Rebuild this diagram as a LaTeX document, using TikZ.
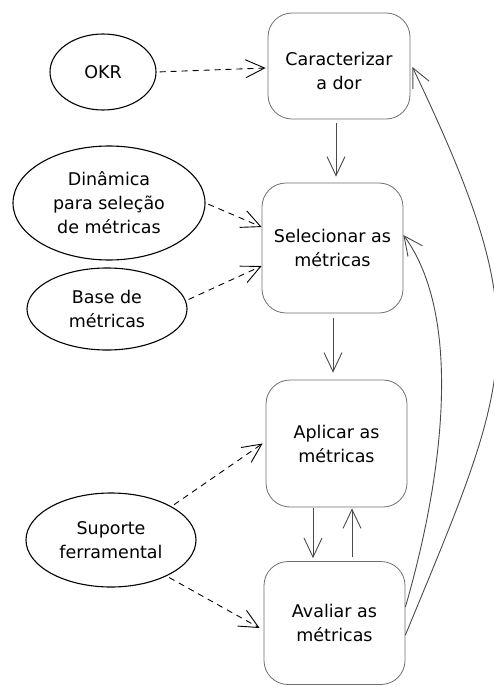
\documentclass[tikz,border=0pt]{standalone}
\usepackage{fontspec}
\setmainfont{DejaVu Sans}
\usetikzlibrary{shapes.geometric,arrows.meta,calc}
\definecolor{boxgray}{HTML}{6F6F6F}
\definecolor{arrgray}{HTML}{4A4A4A}
\tikzset{
  stepbox/.style={draw=boxgray, line width=0.8pt, rounded corners=24pt, inner sep=0pt,
    align=center, font=\fontsize{17.5}{24}\selectfont},
  inbox/.style={ellipse, draw=black, line width=1.1pt, inner sep=0pt,
    align=center, font=\fontsize{17.5}{24}\selectfont},
  tip/.style={-{Straight Barb[length=19pt,width=18pt]}},
  dashlink/.style={tip, draw=black, line width=0.9pt, dash pattern=on 6pt off 5pt},
  flow/.style={tip, draw=arrgray, line width=0.9pt},
  back/.style={tip, draw=arrgray, line width=0.9pt},
}
\begin{document}
\begin{tikzpicture}[x=1pt,y=-1pt]
\useasboundingbox (0,0) rectangle (493,687);
% process boxes
\node[stepbox, minimum width=142pt, minimum height=106pt] (b1) at (339,66) {\rule{0pt}{24pt}Caracterizar\\a dor};
\node[stepbox, minimum width=141pt, minimum height=130pt] (b2) at (332.5,248) {Selecionar as\\métricas};
\node[stepbox, minimum width=141pt, minimum height=127pt] (b3) at (336.5,443.5) {Aplicar as\\métricas};
\node[stepbox, minimum width=141pt, minimum height=123pt] (b4) at (334.5,623) {Avaliar as\\métricas};
% inputs
\node[inbox, minimum width=106pt, minimum height=76pt] (okr) at (103,72) {OKR};
\node[inbox, minimum width=192pt, minimum height=114pt] (dyn) at (109,203) {Dinâmica\\para seleção\\de métricas};
\node[inbox, minimum width=160pt, minimum height=82pt] (base) at (107,309) {Base de\\métricas};
\node[inbox, minimum width=170pt, minimum height=94pt] (sup) at (111,540) {Suporte\\ferramental};
% dashed input arrows
\draw[dashlink, shorten <=3pt] (okr.east) -- ([xshift=-2pt,yshift=-2pt]b1.west);
\draw[dashlink, shorten <=3pt] (dyn.east) -- ([yshift=21pt]b2.west);
\draw[dashlink, shorten <=3pt] (base.6) -- ([yshift=-18pt]b2.west);
\draw[dashlink, shorten <=3pt] (sup.29) -- ([xshift=-3pt]b3.west);
\draw[dashlink, shorten <=3pt] (sup.-33) -- ([xshift=-4pt,yshift=-5pt]b4.west);
% main flow
\draw[flow] ([xshift=-3pt,yshift=-4pt]b1.south) -- ([xshift=3.5pt,yshift=6pt]b2.north);
\draw[flow] ([xshift=0.5pt,yshift=-5pt]b2.south) -- ([xshift=-3.5pt,yshift=7pt]b3.north);
\draw[flow] ([xshift=-23.5pt,yshift=-1pt]b3.south) -- ([xshift=-21.5pt,yshift=3pt]b4.north);
\draw[flow] ([xshift=17.5pt,yshift=4pt]b4.north) -- ([xshift=15.5pt,yshift=-1pt]b3.south);
% feedback curves
\draw[back] ([yshift=16pt]b4.east) .. controls (445,470) and (462,315) .. ([yshift=13pt]b2.east);
\draw[back] ([yshift=-12pt]b4.east) .. controls (515,370) and (538,330) .. ([xshift=2pt,yshift=-1pt]b1.east);
\end{tikzpicture}
\end{document}
